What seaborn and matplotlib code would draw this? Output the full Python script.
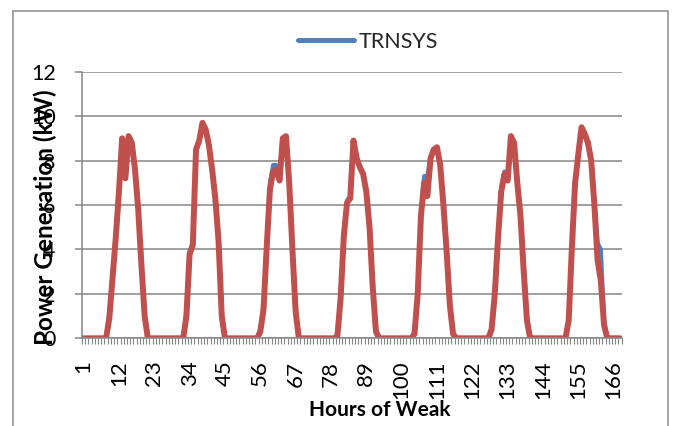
import matplotlib
matplotlib.use("Agg")
import matplotlib.pyplot as plt
from matplotlib.lines import Line2D
from matplotlib.patches import Rectangle
from matplotlib.ticker import MultipleLocator, FixedLocator
import seaborn as sns
import pandas as pd

# ---- data ----
hours = list(range(1, 169))

trnsys = [0, 0, 0, 0, 0, 0, 0, 0, 1.2, 2.9, 4.7, 6.7, 9.0, 7.4, 9.1, 8.8, 7.7, 5.9, 3.4, 1.1, 0, 0, 0, 0,
          0, 0, 0, 0, 0, 0, 0, 0, 1.2, 3.9, 4.3, 8.5, 8.9, 9.6, 9.3, 8.7, 7.7, 6.4, 4.5, 1.1, 0, 0, 0, 0,
          0, 0, 0, 0, 0, 0, 0, 0.4, 1.5, 4.3, 7.0, 7.8, 7.8, 7.5, 9.0, 9.1, 7.1, 4.1, 1.4, 0, 0, 0, 0, 0,
          0, 0, 0, 0, 0, 0, 0, 0.2, 2.0, 4.8, 6.2, 6.4, 8.8, 8.1, 7.7, 7.4, 6.7, 5.1, 2.4, 0.4, 0, 0, 0, 0,
          0, 0, 0, 0, 0, 0, 0, 0.3, 2.2, 5.6, 7.3, 7.3, 8.1, 8.5, 8.5, 7.9, 6.1, 4.0, 1.6, 0.2, 0, 0, 0, 0,
          0, 0, 0, 0, 0, 0, 0, 0.5, 2.2, 4.6, 6.8, 7.5, 7.3, 9.0, 8.8, 7.0, 5.6, 3.3, 1.0, 0, 0, 0, 0, 0,
          0, 0, 0, 0, 0, 0, 0, 0.9, 4.2, 7.0, 8.3, 9.3, 9.1, 8.7, 8.0, 6.1, 4.3, 4.0, 0.8, 0, 0, 0, 0, 0]

model2 = [0, 0, 0, 0, 0, 0, 0, 0, 0.9, 2.7, 4.5, 6.6, 9.0, 7.2, 9.1, 8.8, 7.6, 5.8, 3.3, 1.0, 0, 0, 0, 0,
          0, 0, 0, 0, 0, 0, 0, 0, 1.0, 3.8, 4.2, 8.5, 8.9, 9.7, 9.4, 8.7, 7.6, 6.3, 4.4, 1.0, 0, 0, 0, 0,
          0, 0, 0, 0, 0, 0, 0, 0.3, 1.3, 4.1, 6.7, 7.5, 7.6, 7.1, 9.0, 9.1, 7.0, 4.0, 1.2, 0, 0, 0, 0, 0,
          0, 0, 0, 0, 0, 0, 0, 0.1, 1.8, 4.6, 6.1, 6.3, 8.9, 8.1, 7.7, 7.4, 6.6, 5.0, 2.3, 0.3, 0, 0, 0, 0,
          0, 0, 0, 0, 0, 0, 0, 0.2, 2.0, 5.5, 7.0, 6.4, 8.1, 8.5, 8.6, 7.8, 6.0, 3.9, 1.5, 0.2, 0, 0, 0, 0,
          0, 0, 0, 0, 0, 0, 0, 0.4, 2.0, 4.5, 6.6, 7.4, 7.1, 9.1, 8.8, 7.0, 5.5, 3.0, 0.8, 0, 0, 0, 0, 0,
          0, 0, 0, 0, 0, 0, 0, 0.8, 4.1, 7.0, 8.3, 9.5, 9.2, 8.8, 8.0, 6.0, 3.5, 2.6, 0.6, 0, 0, 0, 0, 0]

tick_hours = list(range(1, 169, 11))
y_ticks = [0, 2, 4, 6, 8, 10, 12]

df = pd.DataFrame({"hour": hours, "TRNSYS": trnsys, "model2": model2})

# ---- style ----
sns.set_theme(style="white")
plt.rcParams["font.family"] = ["Lato", "DejaVu Sans"]

BLUE = "#4F81BD"
RED = "#C0504D"
GRID = "#868686"

W, H = 675, 426
fig = plt.figure(figsize=(W / 100, H / 100), dpi=100)
x0, x1, ytop, ybot = 82, 621.7, 71.7, 338.3
ax = fig.add_axes([x0 / W, 1 - ybot / H, (x1 - x0) / W, (ybot - ytop) / H])

# outer chart frame
fig.patches.append(Rectangle((13 / W, -0.1), (668 - 13) / W, 1.1 + (1 - 11 / H) - 1,
                             transform=fig.transFigure, fill=False,
                             edgecolor="#8C8C8C", linewidth=1.1, clip_on=False))

sns.lineplot(data=df, x="hour", y="TRNSYS", ax=ax, color=BLUE, linewidth=3.0,
             legend=False, solid_capstyle="round", solid_joinstyle="round")
sns.lineplot(data=df, x="hour", y="model2", ax=ax, color=RED, linewidth=4.3,
             legend=False, solid_capstyle="round", solid_joinstyle="round")

ax.set_xlim(0.5, 168.5)
ax.set_ylim(0, 12)

ax.yaxis.set_major_locator(FixedLocator(y_ticks))
ax.grid(axis="y", color=GRID, linewidth=1.1)
ax.grid(axis="x", visible=False)
ax.set_axisbelow(True)

for s in ["top", "right"]:
    ax.spines[s].set_visible(False)
for s in ["left", "bottom"]:
    ax.spines[s].set_color(GRID)
    ax.spines[s].set_linewidth(1.1)

ax.xaxis.set_major_locator(FixedLocator(tick_hours))
ax.set_xticklabels([str(h) for h in tick_hours], rotation=90)
ax.xaxis.set_minor_locator(MultipleLocator(1, offset=0.5))
ax.tick_params(axis="x", which="major", length=0, pad=16, labelsize=16, colors="black")
ax.tick_params(axis="x", which="minor", length=4.3, width=0.8, color=GRID, bottom=True)
ax.tick_params(axis="y", which="major", length=5, width=1.1, color=GRID, pad=14,
               labelsize=15.5, left=True, labelcolor="black")
ax.set_yticklabels([str(v) for v in y_ticks])

ax.set_xlabel("Hours of Weak", fontsize=15, fontweight="bold", color="black")
ax.xaxis.set_label_coords((380 - x0) / (x1 - x0), -(410 - ybot) / (ybot - ytop))
ax.xaxis.label.set_verticalalignment("center")

ax.set_ylabel("Power Generation (kW)", fontsize=17.5, fontweight="bold", color="black")
ax.yaxis.set_label_coords(-(x0 - 45) / (x1 - x0), (ybot - 217) / (ybot - ytop))
ax.yaxis.label.set_verticalalignment("center")

handle = Line2D([], [], color=BLUE, linewidth=3.6, solid_capstyle="round")
fig.legend([handle], ["TRNSYS"], loc="center", bbox_to_anchor=(368 / W, 1 - 42 / H),
           frameon=False, fontsize=15.5, handlelength=2.6, handletextpad=0.2)

fig.savefig("out.png", dpi=100)
